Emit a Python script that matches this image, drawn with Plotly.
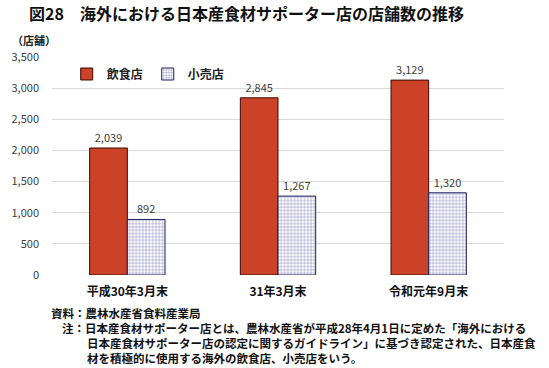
import plotly.graph_objects as go

categories = ["平成30年3月末", "31年3月末", "令和元年9月末"]
restaurants = [2039, 2845, 3129]
retail = [892, 1267, 1320]
series_names = ["飲食店", "小売店"]
y_ticks = [0, 500, 1000, 1500, 2000, 2500, 3000, 3500]

FONT = "Noto Sans CJK JP"
PL, PT, PW, PH = 43, 57, 461, 218  # plot area in pixels

fig = go.Figure()
fig.add_trace(go.Bar(
    x=categories, y=restaurants, name="<b>" + series_names[0] + "</b>",
    marker=dict(color="#cb4229", line=dict(color="#3a0a00", width=1)),
    texttemplate="%{y:,}", textposition="outside",
    textfont=dict(size=11, color="#404040", family=FONT), cliponaxis=False,
))
fig.add_trace(go.Bar(
    x=categories, y=retail, name="<b>" + series_names[1] + "</b>",
    marker=dict(color="white", line=dict(color="#1f1f5a", width=1),
                pattern=dict(shape="+", fgcolor="#3f3f98", bgcolor="white",
                             size=3.3, solidity=0.35)),
    texttemplate="%{y:,}", textposition="outside",
    textfont=dict(size=11, color="#404040", family=FONT), cliponaxis=False,
))

fig.update_layout(
    width=549, height=368,
    margin=dict(l=PL, r=549 - PL - PW, t=PT, b=368 - PT - PH),
    paper_bgcolor="white", plot_bgcolor="white",
    barmode="group", bargap=0.5, bargroupgap=0,
    font=dict(family=FONT, color="#333333"),
    showlegend=True,
    legend=dict(orientation="h", x=(58 - PL) / PW, y=(PT + PH - 74) / PH,
                xanchor="left", yanchor="middle",
                font=dict(size=12, color="#222222", family=FONT),
                bgcolor="rgba(0,0,0,0)", itemwidth=30, tracegroupgap=0),
    xaxis=dict(showgrid=False, showline=False, ticks="",
               tickvals=categories, ticktext=["<b>" + c + "</b>" for c in categories],
               tickfont=dict(size=12, color="#111111", family=FONT),
               ticklabelstandoff=8),
    yaxis=dict(range=[0, 3500], tickvals=y_ticks, tickformat=",",
               showgrid=True, gridcolor="#d9d9d9", gridwidth=1,
               zeroline=False, showline=False, ticks="",
               tickfont=dict(size=11, color="#404040", family=FONT),
               ticklabelstandoff=12),
)

annotations = [
    dict(text="<b>図28　海外における日本産食材サポーター店の店舗数の推移</b>",
         x=17, y=13, font=dict(size=16, color="#111111")),
    dict(text="<b>（店舗）</b>", x=0, y=40, font=dict(size=11, color="#222222")),
    dict(text="<b>資料：農林水産省食料産業局</b>", x=40, y=313, font=dict(size=11.5, color="#111111")),
    dict(text="<b>注：日本産食材サポーター店とは、農林水産省が平成28年4月1日に定めた「海外における</b>",
         x=51, y=328, font=dict(size=11.5, color="#111111")),
    dict(text="<b>日本産食材サポーター店の認定に関するガイドライン」に基づき認定された、日本産食</b>",
         x=77, y=343, font=dict(size=11.5, color="#111111")),
    dict(text="<b>材を積極的に使用する海外の飲食店、小売店をいう。</b>",
         x=77, y=358, font=dict(size=11.5, color="#111111")),
]
for a in annotations:
    fig.add_annotation(
        text=a["text"], xref="paper", yref="paper",
        x=(a["x"] - PL) / PW, y=(PT + PH - a["y"]) / PH,
        xanchor="left", yanchor="middle", showarrow=False,
        font=dict(family=FONT, **a["font"]),
    )

fig.write_html("out.html", config={"displayModeBar": False},
               post_script="document.body.style.margin='0';document.body.style.overflow='hidden';")
